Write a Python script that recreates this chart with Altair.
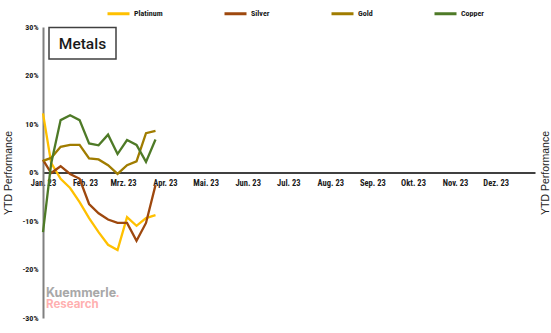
import altair as alt
import pandas as pd

# ---- data ----
dates = ["2023-01-01", "2023-01-07", "2023-01-14", "2023-01-21", "2023-01-28",
         "2023-02-04", "2023-02-11", "2023-02-18", "2023-02-25",
         "2023-03-04", "2023-03-11", "2023-03-18", "2023-03-25"]
platinum = [12.2, 2.0, -1.3, -3.2, -6.1, -9.4, -12.3, -14.9, -16.0, -9.2, -11.0, -9.4, -8.8]
silver = [2.6, -0.1, 1.3, -0.3, -1.3, -6.5, -8.4, -9.7, -10.4, -10.4, -14.1, -10.4, -2.6]
gold = [2.4, 3.0, 5.3, 5.7, 5.7, 2.9, 2.7, 1.5, -0.3, 1.5, 2.3, 8.1, 8.6]
copper = [-12.3, 1.8, 10.8, 11.8, 10.8, 6.0, 5.6, 7.8, 3.8, 6.7, 5.7, 2.2, 6.8]

series_names = ["Platinum", "Silver", "Gold", "Copper"]
series_colors = ["#FFC000", "#9E480E", "#A07C00", "#4E7A27"]
month_labels = ["Jan.", "Feb.", "Mrz.", "Apr.", "Mai.", "Jun.",
                "Jul.", "Aug.", "Sep.", "Okt.", "Nov.", "Dez."]
year_suffix = "23"
y_ticks = [-30, -20, -10, 0, 10, 20, 30]
chart_title = "Metals"
y_title = "YTD Performance"
wm_name = "Kuemmerle"
wm_dot = "."
wm_sub = "Research"

rows = []
for name, vals in zip(series_names, [platinum, silver, gold, copper]):
    for d, v in zip(dates, vals):
        rows.append({"date": d + "T00:00:00", "series": name, "value": v})
df = pd.DataFrame(rows)

LABEL_FONT = "Roboto Condensed, Liberation Sans Narrow, Roboto"
TITLE_FONT = "Liberation Sans"

label_expr = "[" + ",".join(f"'{m}'" for m in month_labels) + "][month(datum.value)] + ' " + year_suffix + "'"
month_ticks = [alt.DateTime(year=2023, month=m, date=1) for m in range(1, 13)]

x_enc = alt.X(
    "date:T",
    scale=alt.Scale(domain=[alt.DateTime(year=2023, month=1, date=1),
                            alt.DateTime(year=2023, month=12, date=30)]),
    axis=alt.Axis(
        values=month_ticks, labelExpr=label_expr, title=None,
        orient="bottom", offset=-145.5, grid=False, ticks=False,
        domainColor="#000000", domainWidth=1.5,
        labelFont=LABEL_FONT, labelFontWeight="bold", labelFontSize=8.5,
        labelColor="#1a1a1a", labelPadding=6, labelFlush=False,
        labelOverlap=False, labelAlign="center",
    ),
)

y_enc = alt.Y(
    "value:Q",
    scale=alt.Scale(domain=[-30, 30], nice=False),
    axis=alt.Axis(
        values=y_ticks, labelExpr="datum.value + '%'", title=y_title,
        grid=False, ticks=False, domainColor="#808080", domainWidth=2,
        labelFont=LABEL_FONT, labelFontWeight="bold", labelFontSize=8,
        labelColor="#1a1a1a", labelPadding=5,
        titleFont=TITLE_FONT, titleFontWeight="normal", titleFontSize=10.5,
        titleColor="#222222", titlePadding=8,
    ),
)

lines = alt.Chart(df).mark_line(strokeWidth=2.3).encode(
    x=x_enc,
    y=y_enc,
    color=alt.Color(
        "series:N",
        scale=alt.Scale(domain=series_names, range=series_colors),
        sort=series_names,
        legend=alt.Legend(
            title=None, orient="none", direction="horizontal", columns=4,
            legendX=63, legendY=-26, padding=0,
            symbolType="stroke", symbolSize=484, symbolStrokeWidth=3,
            labelFont=LABEL_FONT, labelFontWeight="bold", labelFontSize=8,
            labelColor="#1a1a1a", labelOffset=3, columnPadding=55,
        ),
    ),
    order=alt.Order("date:T"),
)

right_axis = alt.Chart(pd.DataFrame({"v": [0]})).mark_point(opacity=0).encode(
    y=alt.Y(
        "v:Q",
        scale=alt.Scale(domain=[-30, 30], nice=False),
        axis=alt.Axis(
            orient="right", labels=False, ticks=False, domain=False, grid=False,
            title=y_title, titleAngle=270,
            titleFont=TITLE_FONT, titleFontWeight="normal", titleFontSize=10.5,
            titleColor="#222222", titlePadding=15,
        ),
    ),
)

title_df = pd.DataFrame({"t": [chart_title]})
title_box = alt.Chart(title_df).mark_rect(
    fill="white", stroke="#404040", strokeWidth=1.5
).encode(x=alt.value(6), x2=alt.value(73), y=alt.value(0.5), y2=alt.value(32))
title_text = alt.Chart(title_df).mark_text(
    font="Roboto", fontSize=15.5, fontWeight=500, color="#1a1a1a",
    align="center", baseline="middle",
).encode(text="t:N", x=alt.value(39.5), y=alt.value(16.5))

wm_df = pd.DataFrame({"name": [wm_name], "dot": [wm_dot], "sub": [wm_sub]})
wm_font = "Inter, Roboto"
wm_namelayer = alt.Chart(wm_df).mark_text(
    font=wm_font, fontSize=12.5, fontWeight="bold", color="#A8A8A8",
    align="left", baseline="alphabetic",
).encode(text="name:N", x=alt.value(3), y=alt.value(270))
wm_dotlayer = alt.Chart(wm_df).mark_text(
    font=wm_font, fontSize=12.5, fontWeight="bold", color="#FFB0B0",
    align="left", baseline="alphabetic",
).encode(text="dot:N", x=alt.value(72.5), y=alt.value(270))
wm_sublayer = alt.Chart(wm_df).mark_text(
    font=wm_font, fontSize=11.5, fontWeight="bold", color="#FFB0B0",
    align="left", baseline="alphabetic",
).encode(text="sub:N", x=alt.value(3), y=alt.value(281))

chart = alt.layer(
    lines, right_axis, title_box, title_text, wm_namelayer, wm_dotlayer, wm_sublayer
).resolve_scale(
    y="independent"
).properties(
    width=492, height=291,
    autosize=alt.AutoSizeParams(type="none"),
    padding={"left": 43, "top": 27, "right": 16, "bottom": 15},
    background="white",
).configure_view(stroke=None)

chart.save("out.html", embed_options={"renderer": "svg", "actions": False})
